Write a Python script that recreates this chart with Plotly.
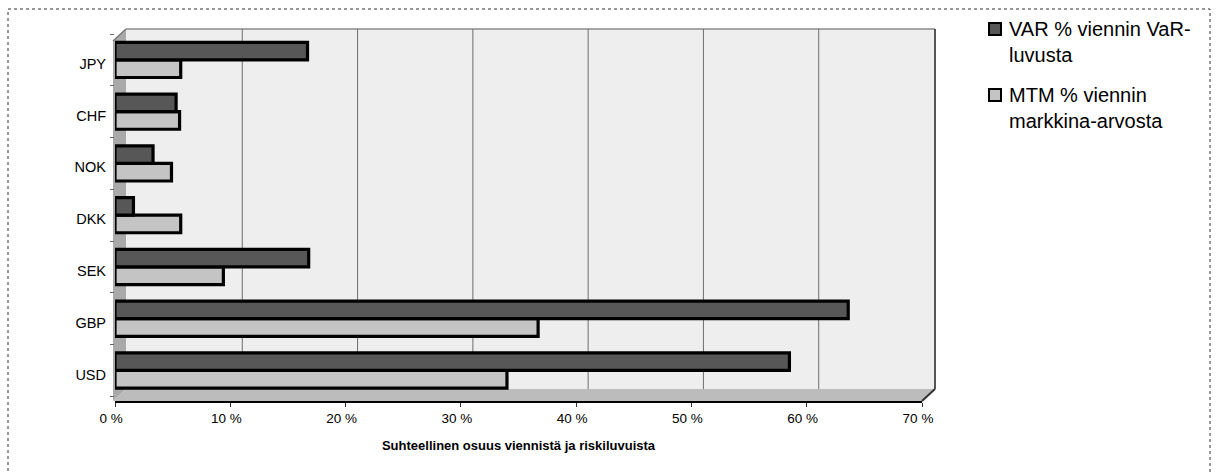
import plotly.graph_objects as go

# Currency shares (%) of export VaR and of export market value
currencies = ["USD", "GBP", "SEK", "DKK", "NOK", "CHF", "JPY"]
var_share = [58.5, 63.6, 16.8, 1.6, 3.3, 5.3, 16.7]
mtm_share = [34.0, 36.7, 9.4, 5.7, 4.9, 5.6, 5.7]
x_ticks = [0, 10, 20, 30, 40, 50, 60, 70]
x_tick_labels = ["0 %", "10 %", "20 %", "30 %", "40 %", "50 %", "60 %", "70 %"]

var_name = "VAR % viennin VaR-<br>luvusta"
mtm_name = "MTM % viennin<br>markkina-arvosta"
x_title = "Suhteellinen osuus viennistä ja riskiluvuista"

VAR_FILL, MTM_FILL = "#575757", "#c4c4c4"

# Figure geometry (pixels)
FIG_W, FIG_H = 1216, 472
ML, MR, MT, MB = 115, 294, 34, 71
PW, PH = FIG_W - ML - MR, FIG_H - MT - MB
DEPTH_X, DEPTH_Y = 12, 12  # offset of the back wall from the front plane


def px(x):
    return (x - ML) / PW


def py(y):
    return (FIG_H - MB - y) / PH


font = "Arial, Liberation Sans, sans-serif"

fig = go.Figure()
fig.add_trace(go.Bar(
    y=currencies, x=mtm_share, orientation="h", name=mtm_name, showlegend=False,
    marker=dict(color=MTM_FILL, line=dict(color="#000000", width=3.2)),
    hoverinfo="x+y",
))
fig.add_trace(go.Bar(
    y=currencies, x=var_share, orientation="h", name=var_name, showlegend=False,
    marker=dict(color=VAR_FILL, line=dict(color="#000000", width=3.2)),
    hoverinfo="x+y",
))

front_left, front_bottom = ML - 2, FIG_H - MB
back_left = front_left + DEPTH_X + 1
back_bottom = front_bottom - DEPTH_Y
top_y = MT - 5
right_back = ML + PW + DEPTH_X + 1
right_front = ML + PW

shapes = []
annotations = []


def path(points, **kw):
    d = "M " + " L ".join(f"{px(x):.5f},{py(y):.5f}" for x, y in points) + " Z"
    shapes.append(dict(type="path", xref="paper", yref="paper", path=d, layer="below", **kw))


def line(p0, p1, color, width, dash="solid"):
    shapes.append(dict(type="line", xref="paper", yref="paper",
                       x0=px(p0[0]), y0=py(p0[1]), x1=px(p1[0]), y1=py(p1[1]),
                       line=dict(color=color, width=width, dash=dash), layer="below"))


# back wall, left wall and floor of the 3-D box
path([(back_left, top_y), (right_back, top_y), (right_back, back_bottom), (back_left, back_bottom)],
     fillcolor="#eeeeee", line=dict(width=0))
path([(front_left, top_y + DEPTH_Y), (back_left, top_y), (back_left, back_bottom), (front_left, front_bottom)],
     fillcolor="#a9a9a9", line=dict(width=0))
path([(front_left, front_bottom), (back_left, back_bottom), (right_back, back_bottom), (right_front, front_bottom)],
     fillcolor="#bcbcbc", line=dict(width=0))
line((back_left, top_y), (right_back, top_y), "#8a8a8a", 1.5)
line((front_left, top_y + DEPTH_Y), (back_left, top_y), "#777777", 1.5)
line((right_back, top_y), (right_back, back_bottom), "#555555", 2)
line((right_front, front_bottom), (right_back, back_bottom), "#333333", 2)

# gridlines drawn on the back wall
for v in x_ticks[1:-1]:
    shapes.append(dict(type="line", xref="x", xsizemode="pixel", xanchor=v,
                       x0=DEPTH_X, x1=DEPTH_X, yref="paper",
                       y0=py(back_bottom), y1=py(top_y),
                       line=dict(color="#6e6e6e", width=1), layer="below"))

# outer frame of the chart
shapes.append(dict(type="rect", xref="paper", yref="paper",
                   x0=px(8), x1=px(1210), y0=py(FIG_H + 10), y1=py(9),
                   line=dict(color="#333333", width=1, dash="dot"), layer="below"))

# legend: swatch + two-line label per series
legend_items = [(var_name, VAR_FILL, 29), (mtm_name, MTM_FILL, 95)]
for name, fill, cy in legend_items:
    shapes.append(dict(type="rect", xref="paper", yref="paper",
                       x0=px(989), x1=px(1001), y0=py(cy + 6), y1=py(cy - 6),
                       fillcolor=fill, line=dict(color="black", width=2)))
    annotations.append(dict(xref="paper", yref="paper", x=px(1007), y=py(cy - 13),
                            xanchor="left", yanchor="top", align="left", showarrow=False,
                            text=name, font=dict(size=20, family=font, color="black")))

fig.update_layout(
    width=FIG_W, height=FIG_H,
    margin=dict(l=ML, r=MR, t=MT, b=MB, pad=0),
    paper_bgcolor="white", plot_bgcolor="rgba(0,0,0,0)",
    barmode="group", bargap=0.32, bargroupgap=0,
    font=dict(family=font, color="black"),
    shapes=shapes, annotations=annotations,
    showlegend=False,
    xaxis=dict(range=[0, 70], tickvals=x_ticks, ticktext=x_tick_labels,
               showgrid=False, zeroline=False,
               showline=True, linecolor="black", linewidth=2,
               ticks="outside", ticklen=4, tickcolor="#333333",
               ticklabelshift=-4,
               tickfont=dict(size=13.5),
               title=dict(text=x_title, font=dict(size=13, weight="bold"), standoff=16)),
    yaxis=dict(categoryorder="array", categoryarray=currencies,
               range=[-0.59, 6.5], showgrid=False, zeroline=False, showline=False,
               ticks="outside", tickson="boundaries", ticklen=4, tickcolor="#666666",
               ticklabelstandoff=8, ticklabelshift=4,
               tickfont=dict(size=14.5)),
)

fig.write_html("out.html")
